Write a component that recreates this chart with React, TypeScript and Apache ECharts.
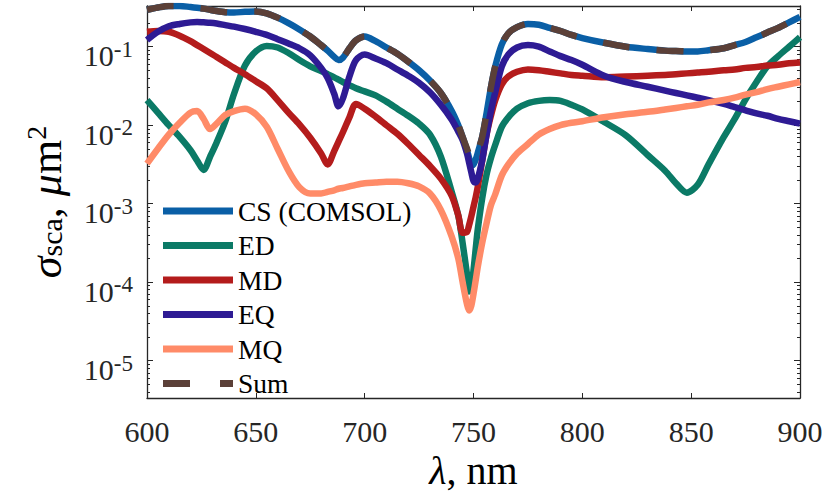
import React, { useEffect, useRef } from "react";
import * as echarts from "echarts";

// Wavelength grid (nm)
const wavelength = [600,605,610,615,620,623,626,629,632,636,640,645,650,655,660,665,670,675,680,683,686,688,690,693,696,700,705,710,715,720,725,730,735,740,743,745,747,748,749,750,751,752,754,756,758,760,763,766,770,775,780,785,790,795,800,810,820,830,838,843,848,853,858,865,870,875,880,885,890,895,900];

// Series values, stored as log10(sigma_sca / um^2)
const csLog10 = [-0.53,-0.50,-0.48,-0.48,-0.495,-0.505,-0.515,-0.53,-0.545,-0.56,-0.565,-0.555,-0.55,-0.575,-0.63,-0.70,-0.78,-0.87,-0.98,-1.05,-1.13,-1.17,-1.14,-1.02,-0.92,-0.87,-0.93,-1.01,-1.09,-1.19,-1.30,-1.43,-1.59,-1.82,-2.00,-2.15,-2.32,-2.42,-2.52,-2.50,-2.44,-2.35,-2.15,-1.85,-1.52,-1.25,-0.97,-0.83,-0.75,-0.71,-0.72,-0.76,-0.80,-0.85,-0.89,-0.95,-1.00,-1.03,-1.05,-1.055,-1.06,-1.06,-1.045,-1.02,-0.98,-0.94,-0.88,-0.82,-0.76,-0.69,-0.62];
const edLog10 = [-1.68,-1.84,-2.00,-2.15,-2.32,-2.45,-2.57,-2.40,-2.22,-1.95,-1.60,-1.24,-1.06,-0.99,-1.01,-1.08,-1.17,-1.25,-1.31,-1.35,-1.39,-1.42,-1.45,-1.49,-1.53,-1.57,-1.62,-1.70,-1.79,-1.88,-1.98,-2.12,-2.40,-2.85,-3.15,-3.50,-3.90,-4.12,-4.08,-3.85,-3.58,-3.32,-2.93,-2.63,-2.42,-2.25,-2.02,-1.90,-1.79,-1.72,-1.69,-1.68,-1.69,-1.74,-1.80,-1.96,-2.13,-2.38,-2.58,-2.74,-2.86,-2.76,-2.50,-2.15,-1.92,-1.67,-1.45,-1.25,-1.12,-1.00,-0.88];
const mdLog10 = [-0.81,-0.80,-0.81,-0.86,-0.93,-0.98,-1.03,-1.08,-1.13,-1.20,-1.27,-1.35,-1.44,-1.53,-1.68,-1.84,-1.99,-2.16,-2.36,-2.50,-2.33,-2.21,-2.09,-1.90,-1.73,-1.79,-1.89,-2.00,-2.11,-2.24,-2.38,-2.52,-2.68,-2.90,-3.15,-3.37,-3.36,-3.27,-3.16,-3.04,-2.92,-2.78,-2.45,-2.12,-1.88,-1.68,-1.48,-1.38,-1.32,-1.29,-1.30,-1.32,-1.34,-1.36,-1.37,-1.39,-1.38,-1.37,-1.36,-1.35,-1.34,-1.33,-1.32,-1.30,-1.29,-1.27,-1.26,-1.24,-1.23,-1.21,-1.20];
const eqLog10 = [-0.915,-0.81,-0.74,-0.71,-0.69,-0.685,-0.69,-0.695,-0.705,-0.725,-0.745,-0.775,-0.81,-0.85,-0.905,-0.96,-1.02,-1.11,-1.27,-1.40,-1.60,-1.76,-1.66,-1.38,-1.17,-1.10,-1.15,-1.21,-1.29,-1.37,-1.46,-1.58,-1.74,-1.93,-2.08,-2.19,-2.36,-2.48,-2.60,-2.71,-2.73,-2.68,-2.45,-2.12,-1.82,-1.58,-1.25,-1.10,-1.01,-0.98,-1.00,-1.06,-1.12,-1.17,-1.23,-1.37,-1.45,-1.51,-1.56,-1.59,-1.62,-1.65,-1.68,-1.73,-1.77,-1.81,-1.85,-1.88,-1.92,-1.95,-1.98];
const mqLog10 = [-2.49,-2.30,-2.12,-1.97,-1.84,-1.82,-1.92,-2.05,-1.98,-1.87,-1.82,-1.79,-1.86,-2.02,-2.30,-2.58,-2.79,-2.87,-2.87,-2.85,-2.83,-2.81,-2.80,-2.78,-2.76,-2.74,-2.73,-2.72,-2.72,-2.74,-2.78,-2.87,-3.08,-3.42,-3.70,-4.00,-4.28,-4.36,-4.30,-4.15,-3.98,-3.80,-3.50,-3.25,-3.02,-2.88,-2.64,-2.50,-2.36,-2.24,-2.12,-2.05,-2.00,-1.97,-1.95,-1.90,-1.86,-1.83,-1.80,-1.78,-1.76,-1.74,-1.71,-1.68,-1.65,-1.61,-1.58,-1.54,-1.51,-1.48,-1.45];
const sumLog10 = [-0.53,-0.50,-0.48,-0.48,-0.495,-0.505,-0.515,-0.53,-0.545,-0.56,-0.565,-0.555,-0.55,-0.575,-0.63,-0.70,-0.78,-0.87,-0.98,-1.05,-1.13,-1.17,-1.14,-1.02,-0.92,-0.87,-0.93,-1.01,-1.09,-1.19,-1.30,-1.43,-1.59,-1.82,-2.00,-2.15,-2.30,-2.38,-2.45,-2.44,-2.40,-2.33,-2.15,-1.85,-1.52,-1.25,-0.97,-0.83,-0.75,-0.71,-0.72,-0.76,-0.80,-0.85,-0.89,-0.95,-1.00,-1.03,-1.05,-1.055,-1.06,-1.06,-1.045,-1.02,-0.98,-0.94,-0.88,-0.82,-0.76,-0.69,-0.62];

const seriesNames = ["CS (COMSOL)", "ED", "MD", "EQ", "MQ", "Sum"];
const seriesColors = ["#0a5fa6", "#0b7a66", "#b41c1c", "#2e1b94", "#ff8b68", "#5b4038"];
const seriesData = [csLog10, edLog10, mdLog10, eqLog10, mqLog10, sumLog10];

// Axis ticks
const xTicks = [600, 650, 700, 750, 800, 850, 900];
const yMajorTicks = [1e-5, 1e-4, 1e-3, 1e-2, 1e-1];
const yMinorMultipliers = [2, 3, 4, 5, 6, 7, 8, 9];
const Y_MIN = 3.34e-6;
const Y_MAX = 0.33;

const FONT = '"Liberation Serif", "Times New Roman", serif';
const AXIS_COLOR = "#262626";

const yMinorTicks: number[] = [];
for (const major of [1e-6, ...yMajorTicks]) {
  for (const m of yMinorMultipliers) {
    const v = m * major;
    if (v >= Y_MIN && v <= Y_MAX) yMinorTicks.push(v);
  }
}

function yAxisDef(position: "left" | "right", ticks: number[], tickLen: number, withLabels: boolean, withLine: boolean) {
  const ax: any = {
    type: "log",
    logBase: 10,
    position,
    min: Y_MIN,
    max: Y_MAX,
    axisLine: { show: withLine, lineStyle: { color: AXIS_COLOR, width: 1.3 } },
    axisTick: { show: true, inside: true, length: tickLen, customValues: ticks, lineStyle: { color: AXIS_COLOR, width: 1 } },
    splitLine: { show: false },
    minorTick: { show: false },
    axisLabel: { show: false },
  };
  if (withLabels) {
    ax.axisLabel = {
      show: true,
      customValues: yMajorTicks,
      margin: 14,
      formatter: (v: number) => `{b|10}{s|${Math.round(Math.log10(v))}}`,
      rich: {
        b: { fontFamily: FONT, fontSize: 30, lineHeight: 30, padding: [18, 0, 0, 0], color: AXIS_COLOR },
        s: { fontFamily: FONT, fontSize: 23, lineHeight: 23, padding: [6, 0, 0, 0], verticalAlign: "top", color: AXIS_COLOR },
      },
    };
    ax.name = "{g|σ}{sub|sca}{t|, }{g|μ}{t|m}{sup|2}";
    ax.nameLocation = "middle";
    ax.nameRotate = 90;
    ax.nameGap = 71;
    ax.nameTextStyle = {
      rich: {
        g: { fontFamily: FONT, fontStyle: "italic", fontSize: 44, lineHeight: 44, padding: [8, 0, 4, 0], color: "#000" },
        t: { fontFamily: FONT, fontSize: 44, lineHeight: 44, padding: [8, 0, 4, 0], color: "#000" },
        sub: { fontFamily: FONT, fontSize: 30, lineHeight: 30, verticalAlign: "bottom", color: "#000" },
        sup: { fontFamily: FONT, fontSize: 28, lineHeight: 28, verticalAlign: "top", color: "#000" },
      },
    };
  }
  return ax;
}

export default function App() {
  const ref = useRef<HTMLDivElement>(null);
  useEffect(() => {
    if (!ref.current) return;
    const chart = echarts.init(ref.current, undefined, { renderer: "svg" });
    const series = seriesNames.map((name, k) => ({
      name,
      type: "line",
      xAxisIndex: 0,
      yAxisIndex: 0,
      symbol: "none",
      showSymbol: false,
      smooth: 0.3,
      clip: true,
      z: 2 + k,
      data: wavelength.map((w, i) => [w, Math.pow(10, seriesData[k][i])]),
      lineStyle: {
        color: seriesColors[k],
        width: 6.5,
        join: "round",
        type: name === "Sum" ? [27, 27] : "solid",
      },
      itemStyle: { color: seriesColors[k] },
    }));
    const xBase: any = {
      type: "value",
      min: xTicks[0],
      max: xTicks[xTicks.length - 1],
      interval: 50,
      splitLine: { show: false },
      axisLine: { show: true, lineStyle: { color: AXIS_COLOR, width: 1.3 } },
      axisTick: { show: true, inside: true, length: 5, lineStyle: { color: AXIS_COLOR, width: 1 } },
    };
    const legendData = seriesNames.map((name) => ({
      name,
      icon: name === "Sum" ? "path://M0,0H27V7H0Z M57,0H70V7H57Z" : "rect",
    }));
    chart.setOption({
      animation: false,
      backgroundColor: "#ffffff",
      grid: { left: 147, right: 27, top: 6, bottom: 100, containLabel: false },
      legend: {
        orient: "vertical",
        left: 163,
        top: 197,
        padding: 0,
        itemWidth: 70,
        itemHeight: 7,
        itemGap: 6.5,
        data: legendData,
        textStyle: { fontFamily: FONT, fontSize: 27.5, color: "#000" },
      },
      xAxis: [
        {
          ...xBase,
          position: "bottom",
          axisLabel: { show: true, margin: 18, fontFamily: FONT, fontSize: 30, color: AXIS_COLOR },
          name: "{i|λ}{t|, nm}",
          nameLocation: "middle",
          nameGap: 52,
          nameTextStyle: {
            rich: {
              i: { fontFamily: FONT, fontStyle: "italic", fontSize: 40, color: "#000" },
              t: { fontFamily: FONT, fontSize: 40, color: "#000" },
            },
          },
        },
        { ...xBase, position: "top", axisLabel: { show: false } },
      ],
      yAxis: [
        yAxisDef("left", yMajorTicks, 6, true, true),
        yAxisDef("left", yMinorTicks, 3, false, false),
        yAxisDef("right", yMajorTicks, 6, false, true),
        yAxisDef("right", yMinorTicks, 3, false, false),
      ],
      series,
    });
    return () => chart.dispose();
  }, []);
  return <div ref={ref} style={{ position: "absolute", left: 0, top: 0, width: 827, height: 498 }} />;
}
